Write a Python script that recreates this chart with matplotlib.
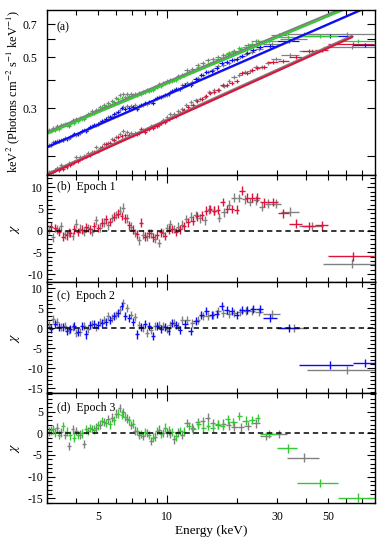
import numpy as np
import matplotlib
matplotlib.use("Agg")
import matplotlib.pyplot as plt
from matplotlib.ticker import FixedLocator, FixedFormatter, NullFormatter, NullLocator, MultipleLocator

plt.rcParams['font.family'] = ['Liberation Serif', 'DejaVu Serif']
plt.rcParams['mathtext.fontset'] = 'stix'
plt.rcParams['axes.unicode_minus'] = False

# ---------------- data ----------------
# low-energy bin edges (keV): FPMA (grey) and FPMB (coloured)
edges_lo_A = [3.00, 3.12, 3.24, 3.37, 3.51, 3.65, 3.80, 3.95, 4.11, 4.27, 4.44, 4.62, 4.80, 5.00,
              5.20, 5.40, 5.62, 5.84, 6.08, 6.32, 6.57, 6.84, 7.11, 7.40, 7.69, 8.00, 8.32, 8.65,
              9.00, 9.36, 9.73, 10.12, 10.53, 10.95, 11.39, 11.84]
edges_lo_B = [3.06, 3.18, 3.31, 3.44, 3.58, 3.72, 3.87, 4.03, 4.19, 4.36, 4.53, 4.71, 4.90, 5.10,
              5.30, 5.51, 5.73, 5.96, 6.20, 6.45, 6.70, 6.97, 7.25, 7.54, 7.84, 8.16, 8.48, 8.82,
              9.18, 9.54, 9.93, 10.32, 10.74, 11.17, 11.61]

# high-energy bin edges per epoch / module
e1_A_hi = [12.4, 13.0, 13.6, 14.2, 14.9, 15.6, 16.4, 17.2, 18.1, 19.0, 20.0, 21.1, 22.3, 23.6, 25.0,
           26.5, 28.2, 31.1, 37.4, 47.5, 80.0]
e1_B_hi = [12.1, 12.6, 13.2, 13.8, 14.4, 15.0, 15.7, 16.3, 17.0, 17.8, 18.6, 19.6, 20.6, 21.7, 22.8,
           24.0, 25.3, 27.2, 30.2, 33.8, 38.6, 44.0, 50.0, 79.0]
e2_A_hi = [12.5, 13.2, 13.9, 14.6, 15.4, 16.2, 17.1, 18.0, 19.0, 20.1, 21.3, 22.6, 24.1, 26.0, 30.8,
           40.5, 80.0]
e2_B_hi = [12.3, 13.0, 13.7, 14.4, 15.2, 16.0, 16.8, 17.7, 18.6, 19.6, 20.6, 21.7, 22.9, 24.4, 26.2,
           30.0, 37.5, 64.5, 80.0]
e3_A_hi = [12.5, 13.2, 13.9, 14.6, 15.4, 16.2, 17.1, 18.0, 19.0, 20.2, 21.6, 23.2, 25.4, 28.3, 33.0,
           45.5]
e3_B_hi = [12.1, 12.7, 13.3, 14.0, 14.7, 15.4, 16.2, 17.0, 17.9, 18.8, 20.0, 21.2, 22.6, 24.1, 25.4,
           30.1, 36.8, 55.2, 80.0]

# unfolded spectra keV^2 (Photons cm^-2 s^-1 keV^-1)
flux_e1_A = [0.1587, 0.1581, 0.1648, 0.1693, 0.1684, 0.1724, 0.1737, 0.1834, 0.1841, 0.1858, 0.1911,
             0.1924, 0.2028, 0.2021, 0.2087, 0.2109, 0.2194, 0.2253, 0.2322, 0.2385, 0.2356, 0.2341,
             0.2341, 0.2332, 0.2416, 0.2447, 0.2514, 0.2521, 0.2532, 0.2658, 0.2746, 0.2828, 0.2840,
             0.2910, 0.2982,
             0.3100, 0.3190, 0.3276, 0.3308, 0.3360, 0.3546, 0.3615, 0.3619, 0.3762, 0.3941, 0.4116,
             0.4211, 0.4302, 0.4382, 0.4522, 0.4556, 0.4728, 0.4907, 0.5120, 0.5350, 0.5570]
flux_e1_B = [0.1584, 0.1606, 0.1619, 0.1623, 0.1659, 0.1702, 0.1751, 0.1770, 0.1814, 0.1861, 0.1884,
             0.1935, 0.1961, 0.2027, 0.2085, 0.2106, 0.2178, 0.2237, 0.2264, 0.2288, 0.2283, 0.2295,
             0.2307, 0.2429, 0.2373, 0.2442, 0.2458, 0.2520, 0.2585, 0.2605, 0.2701, 0.2758, 0.2783,
             0.2856,
             0.2945, 0.3034, 0.3112, 0.3220, 0.3294, 0.3408, 0.3495, 0.3544, 0.3619, 0.3779, 0.3780,
             0.3865, 0.3947, 0.4273, 0.4289, 0.4389, 0.4496, 0.4565, 0.4763, 0.4840, 0.5000, 0.5340,
             0.5400, 0.5710]
flux_e2_A = [0.2076, 0.2147, 0.2168, 0.2173, 0.2219, 0.2233, 0.2287, 0.2291, 0.2336, 0.2416, 0.2437,
             0.2512, 0.2539, 0.2614, 0.2679, 0.2750, 0.2783, 0.2858, 0.2947, 0.3049, 0.3063, 0.3058,
             0.3098, 0.3085, 0.3111, 0.3124, 0.3200, 0.3291, 0.3363, 0.3407, 0.3439, 0.3541, 0.3619,
             0.3657, 0.3777,
             0.3877, 0.3926, 0.4060, 0.4198, 0.4303, 0.4414, 0.4567, 0.4651, 0.4742, 0.4871, 0.5012,
             0.5156, 0.5298, 0.5453, 0.5726, 0.6050, 0.6360]
flux_e2_B = [0.2069, 0.2137, 0.2156, 0.2191, 0.2205, 0.2257, 0.2317, 0.2319, 0.2392, 0.2381, 0.2484,
             0.2533, 0.2574, 0.2630, 0.2687, 0.2749, 0.2820, 0.2896, 0.3002, 0.2973, 0.3012, 0.3029,
             0.2978, 0.3094, 0.3169, 0.3209, 0.3176, 0.3318, 0.3350, 0.3428, 0.3449, 0.3586, 0.3632,
             0.3647,
             0.3794, 0.3799, 0.4018, 0.4193, 0.4338, 0.4385, 0.4494, 0.4708, 0.4768, 0.4853, 0.4901,
             0.5099, 0.5218, 0.5367, 0.5530, 0.5630, 0.5920, 0.6200, 0.5650]
flux_e3_A = [0.2408, 0.2462, 0.2514, 0.2525, 0.2550, 0.2521, 0.2673, 0.2705, 0.2727, 0.2705, 0.2843,
             0.2906, 0.2963, 0.3035, 0.3106, 0.3177, 0.3243, 0.3329, 0.3430, 0.3451, 0.3458, 0.3459,
             0.3468, 0.3487, 0.3536, 0.3623, 0.3607, 0.3708, 0.3836, 0.3870, 0.3938, 0.3995, 0.3999,
             0.4139, 0.4184,
             0.4414, 0.4453, 0.4625, 0.4741, 0.4893, 0.4926, 0.5011, 0.5136, 0.5225, 0.5332, 0.5472,
             0.5653, 0.5895, 0.5923, 0.6295, 0.6360]
flux_e3_B = [0.2389, 0.2415, 0.2442, 0.2534, 0.2543, 0.2560, 0.2588, 0.2649, 0.2704, 0.2777, 0.2832,
             0.2866, 0.2945, 0.3027, 0.3063, 0.3105, 0.3187, 0.3291, 0.3339, 0.3376, 0.3404, 0.3430,
             0.3425, 0.3455, 0.3531, 0.3562, 0.3597, 0.3719, 0.3751, 0.3876, 0.3911, 0.3963, 0.3984,
             0.4105,
             0.4175, 0.4324, 0.4366, 0.4524, 0.4573, 0.4689, 0.4763, 0.4913, 0.4992, 0.5195, 0.5278,
             0.5508, 0.5576, 0.5740, 0.5912, 0.5918, 0.6120, 0.6200, 0.5900]

# residuals (chi)
chi_e1_A = [0.2, -1.5, 0.3, 1.0, -0.8, -0.4, -1.2, 1.6, 0.5, -0.2, 0.6, -0.3, 2.4, 0.7, 1.8, 1.2, 2.9,
            3.6, 4.6, 5.3, 2.8, 0.9, -0.5, -2.2, -0.9, -1.3, -0.6, -1.8, -2.8, -0.5, 0.6, 1.5, 0.4,
            0.9, 1.4,
            2.7, 3.2, 3.6, 2.8, 2.4, 4.8, 4.6, 3.0, 4.2, 6.0, 7.6, 7.5, 7.2, 6.6, 7.0, 5.5, 6.2, 6.2,
            4.4, 1.0, -7.6]
chi_e1_B = [0.9, 0.6, -0.2, -1.4, -1.1, -0.5, 0.3, -0.3, 0.2, 0.8, 0.3, 1.0, 0.6, 1.8, 2.6, 2.0, 3.2,
            3.9, 3.4, 2.8, 1.2, 0.2, -0.8, 1.8, -1.4, -0.6, -1.5, -1.0, -0.4, -1.2, 0.2, 0.4, -0.3,
            0.3,
            1.1, 1.9, 2.3, 3.3, 3.5, 4.6, 5.0, 4.6, 4.8, 6.6, 5.0, 5.0, 4.8, 9.2, 7.6, 7.6, 7.6, 6.5,
            6.6, 4.0, 1.6, 1.1, 1.2, -5.9]
chi_e2_A = [0.8, 2.3, 1.6, 0.2, 0.6, -0.4, 0.2, -1.2, -1.0, 0.5, -0.3, 0.9, 0.3, 1.4, 2.1, 2.9, 2.4,
            3.3, 4.6, 6.2, 5.0, 3.2, 2.8, 0.8, 0.0, -1.2, -0.6, 0.4, 0.8, 0.4, -0.3, 0.8, 1.2, 0.6,
            2.0,
            2.1, 1.2, 2.0, 2.9, 3.1, 3.3, 4.2, 3.8, 3.5, 3.7, 4.0, 4.2, 4.2, 4.0, 3.5, 0.0, -10.4]
chi_e2_B = [-0.3, 1.1, 0.3, 0.2, -0.8, -0.2, 0.6, -0.9, 0.4, -1.6, 0.7, 0.9, 0.8, 1.2, 1.6, 2.1, 2.9,
            3.8, 5.6, 3.0, 2.6, 1.5, -1.6, 0.3, 0.9, 0.5, -2.0, 0.4, -0.3, 0.2, -0.8, 1.2, 0.8, -0.4,
            1.0, -0.8, 1.7, 3.3, 4.2, 3.2, 3.4, 5.4, 4.6, 4.2, 3.2, 4.6, 4.6, 4.8, 4.8, 2.5, 0.0,
            -9.2, -8.6]
chi_e3_A = [0.4, 0.9, 1.3, 0.2, -0.4, -2.9, 0.9, 0.5, -0.3, -2.5, 0.5, 1.0, 1.3, 2.0, 2.6, 3.2, 3.6,
            4.5, 5.8, 4.8, 3.4, 1.9, 0.6, -0.4, -0.6, 0.1, -1.8, -0.8, 0.8, 0.1, 0.2, 0.0, -1.4, 0.2,
            -0.3,
            2.4, 1.3, 2.5, 2.8, 3.6, 2.4, 2.0, 2.2, 1.8, 1.5, 1.4, 1.7, 2.3, -0.6, -0.2, -5.6]
chi_e3_B = [0.7, 0.2, -0.3, 1.6, 0.4, -0.5, -1.0, -0.4, 0.0, 0.9, 1.2, 0.8, 1.8, 2.8, 2.4, 2.1, 3.0,
            4.5, 4.3, 3.8, 3.0, 2.2, 0.5, -0.2, 0.3, -0.4, -1.0, 0.5, -0.2, 1.3, 0.6, 0.3, -0.7, 0.5,
            0.4, 1.7, 0.9, 2.1, 1.3, 1.7, 1.3, 2.1, 1.7, 3.2, 2.6, 4.0, 2.9, 3.1, 3.5, -0.2, -3.5,
            -11.5, -14.9]

# model power-law lines (end points, keV and flux)
model_e1_A = ([3.0, 64.0], [0.155, 0.624])
model_e1_B = ([3.0, 64.0], [0.153, 0.615])
model_e2_A = ([3.0, 79.0], [0.202, 0.850])
model_e2_B = ([3.0, 79.0], [0.203, 0.854])
model_e3_A = ([3.0, 79.0], [0.236, 0.935])
model_e3_B = ([3.0, 79.0], [0.232, 0.917])

top_yticks = [0.185, 0.3, 0.4, 0.5, 0.6, 0.7]
top_ylabels = ['', '0.3', '', '0.5', '', '0.7']
x_minor = [3, 4, 5, 6, 7, 8, 9, 20, 30, 40, 50, 60, 70]
x_minor_labels = ['', '', '5', '', '', '', '', '', '30', '', '50', '', '']

GREY = '#808080'
RED = '#dc143c'
BLUE = '#0a0aff'
GREEN = '#34c834'


def bins(lo, hi):
    e = np.array(lo + hi)
    return (e[:-1] + e[1:]) / 2.0, (e[1:] - e[:-1]) / 2.0


series = [
    ('e1', edges_lo_A, e1_A_hi, flux_e1_A, chi_e1_A, GREY, model_e1_A),
    ('e1', edges_lo_B, e1_B_hi, flux_e1_B, chi_e1_B, RED, model_e1_B),
    ('e2', edges_lo_A, e2_A_hi, flux_e2_A, chi_e2_A, GREY, model_e2_A),
    ('e2', edges_lo_B, e2_B_hi, flux_e2_B, chi_e2_B, BLUE, model_e2_B),
    ('e3', edges_lo_A, e3_A_hi, flux_e3_A, chi_e3_A, GREY, model_e3_A),
    ('e3', edges_lo_B, e3_B_hi, flux_e3_B, chi_e3_B, GREEN, model_e3_B),
]

# ---------------- figure ----------------
W, H = 390, 547
fig = plt.figure(figsize=(W / 100, H / 100), dpi=100)
L, R = 47, 375


def add(top, bot):
    return fig.add_axes([L / W, 1 - bot / H, (R - L) / W, (bot - top) / H])


axA = add(9.5, 175)
axB = add(175, 282)
axC = add(282, 393)
axD = add(393, 503)
res_axes = {'e1': axB, 'e2': axC, 'e3': axD}

for ax in (axA, axB, axC, axD):
    ax.set_xscale('log')
    ax.set_xlim(3, 80)
    ax.xaxis.set_major_locator(FixedLocator([10]))
    ax.xaxis.set_minor_locator(FixedLocator(x_minor))
    ax.xaxis.set_major_formatter(NullFormatter())
    ax.xaxis.set_minor_formatter(NullFormatter())
    ax.tick_params(which='both', direction='in', top=True, right=True, width=0.8, labelsize=8.5)
    ax.tick_params(which='major', length=6)
    ax.tick_params(which='minor', length=3.5)
    for s in ax.spines.values():
        s.set_linewidth(1.0)

axD.xaxis.set_major_formatter(FixedFormatter(['10']))
axD.xaxis.set_minor_formatter(FixedFormatter(x_minor_labels))
axD.tick_params(axis='x', which='both', pad=6)

# top panel
for ep, lo, hi, flux, chi, col, model in series:
    xc, xw = bins(lo, hi)
    axA.errorbar(xc, flux, xerr=xw, fmt='none', ecolor=col, elinewidth=0.9, capsize=0)
    axA.plot(xc, flux, ls='none', marker='|', ms=3.5, mew=0.9, color=col)
for ep, lo, hi, flux, chi, col, model in series:
    axA.plot(model[0], model[1], color=col, lw=1.5, solid_capstyle='butt')

axA.set_yscale('log')
axA.set_ylim(0.1534, 0.81)
axA.yaxis.set_major_locator(FixedLocator(top_yticks))
axA.yaxis.set_major_formatter(FixedFormatter(top_ylabels))
axA.yaxis.set_minor_locator(NullLocator())
axA.tick_params(axis='y', which='both', pad=7)
axA.text(0.028, 0.89, '(a)', transform=axA.transAxes, fontsize=8.5, va='center', ha='left')

# residual panels
for ep, lo, hi, flux, chi, col, model in series:
    ax = res_axes[ep]
    xc, xw = bins(lo, hi)
    ax.errorbar(xc, chi, xerr=xw, yerr=1.0, fmt='none', ecolor=col, elinewidth=1.0, capsize=0)

panel_info = [(axB, (-11.8, 12.8), '(b)  Epoch 1', 0.888),
              (axC, (-16.2, 11.5), '(c)  Epoch 2', 0.874),
              (axD, (-16.1, 9.3), '(d)  Epoch 3', 0.864)]
for ax, yl, lab, ty in panel_info:
    ax.axhline(0, color='k', lw=1.1, ls=(0, (3.5, 2.5)), zorder=5)
    ax.set_ylim(*yl)
    ax.yaxis.set_major_locator(MultipleLocator(5))
    ax.yaxis.set_minor_locator(MultipleLocator(1))
    ax.tick_params(axis='y', which='both', pad=3)
    ax.text(0.03, ty, lab, transform=ax.transAxes, fontsize=8.5, va='center', ha='left')

# axis labels
fig.text(13 / W, 1 - 92 / H, r'keV$^{2}$ (Photons cm$^{-2}$ s$^{-1}$ keV$^{-1}$)',
         rotation=90, ha='center', va='center', fontsize=9)
for yc in (229, 337.5, 448):
    fig.text(15 / W, 1 - yc / H, r'$\chi$', rotation=90, ha='center', va='center', fontsize=10)
fig.text((L + R) / 2 / W, 1 - 531 / H, 'Energy (keV)', ha='center', va='center', fontsize=9.5)

fig.savefig('out.png', dpi=100)
